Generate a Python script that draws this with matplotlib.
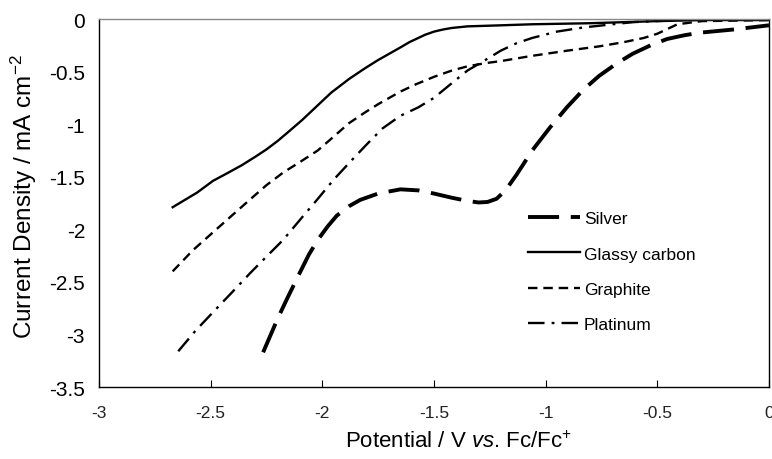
import matplotlib
matplotlib.use("Agg")
import matplotlib.pyplot as plt

plt.rcParams['font.family'] = ['Liberation Sans', 'DejaVu Sans']
plt.rcParams['mathtext.fontset'] = 'custom'
plt.rcParams['mathtext.rm'] = 'Liberation Sans'
plt.rcParams['mathtext.it'] = 'Liberation Sans:italic'

gc_x = [-2.67, -2.56, -2.49, -2.42, -2.36, -2.30, -2.25, -2.20, -2.15, -2.09, -2.03, -1.96, -1.88, -1.81, -1.75, -1.70, -1.65, -1.61, -1.57, -1.54, -1.50, -1.46, -1.42, -1.35, -1.2, -1.06, -0.8, -0.5, -0.3, 0]
gc_y = [-1.79, -1.65, -1.54, -1.46, -1.39, -1.31, -1.24, -1.16, -1.07, -0.96, -0.84, -0.70, -0.57, -0.47, -0.39, -0.33, -0.27, -0.22, -0.18, -0.15, -0.12, -0.10, -0.085, -0.07, -0.06, -0.05, -0.04, -0.02, -0.01, -0.01]

gr_x = [-2.67, -2.58, -2.49, -2.40, -2.32, -2.25, -2.175, -2.10, -2.02, -1.95, -1.88, -1.81, -1.75, -1.70, -1.65, -1.58, -1.5, -1.42, -1.35, -1.27, -1.2, -1.06, -0.9, -0.76, -0.65, -0.56, -0.50, -0.45, -0.41, -0.3, 0]
gr_y = [-2.40, -2.20, -2.03, -1.86, -1.71, -1.58, -1.46, -1.36, -1.25, -1.12, -0.99, -0.89, -0.81, -0.75, -0.69, -0.62, -0.55, -0.49, -0.45, -0.42, -0.40, -0.35, -0.30, -0.26, -0.22, -0.18, -0.14, -0.09, -0.05, -0.02, -0.01]

pt_x = [-2.645, -2.57, -2.49, -2.40, -2.32, -2.25, -2.175, -2.10, -2.02, -1.95, -1.876, -1.80, -1.73, -1.65, -1.57, -1.5, -1.42, -1.35, -1.27, -1.2, -1.13, -1.06, -0.95, -0.83, -0.7, -0.61, -0.4, 0]
pt_y = [-3.16, -2.97, -2.79, -2.59, -2.41, -2.26, -2.10, -1.91, -1.71, -1.53, -1.36, -1.19, -1.04, -0.92, -0.84, -0.75, -0.61, -0.49, -0.39, -0.30, -0.23, -0.18, -0.12, -0.08, -0.05, -0.03, -0.01, 0.0]

ag_x = [-2.265, -2.20, -2.16, -2.10, -2.06, -2.02, -1.975, -1.935, -1.88, -1.83, -1.75, -1.65, -1.57, -1.5, -1.42, -1.35, -1.30, -1.26, -1.22, -1.18, -1.13, -1.06, -0.98, -0.905, -0.83, -0.76, -0.68, -0.61, -0.53, -0.456, -0.38, -0.31, -0.16, 0]
ag_y = [-3.17, -2.85, -2.67, -2.41, -2.24, -2.10, -1.97, -1.87, -1.78, -1.72, -1.66, -1.62, -1.63, -1.66, -1.70, -1.73, -1.745, -1.74, -1.71, -1.63, -1.48, -1.25, -1.03, -0.84, -0.67, -0.54, -0.42, -0.33, -0.25, -0.19, -0.155, -0.13, -0.10, -0.06]

x_ticks = [-3, -2.5, -2, -1.5, -1, -0.5, 0]
x_ticklabels = ['-3', '-2.5', '-2', '-1.5', '-1', '-0.5', '0']
y_ticks = [0, -0.5, -1, -1.5, -2, -2.5, -3, -3.5]
y_ticklabels = ['0', '-0.5', '-1', '-1.5', '-2', '-2.5', '-3', '-3.5']

fig = plt.figure(figsize=(7.72, 4.60), dpi=100)
ax = fig.add_axes([0.1282, 0.1565, 0.8679, 0.80])

ax.plot(ag_x, ag_y, color='black', lw=2.8, dashes=(8, 3), label='Silver')
ax.plot(gc_x, gc_y, color='black', lw=1.7, label='Glassy carbon')
ax.plot(gr_x, gr_y, color='black', lw=1.7, dashes=(4, 2.5), label='Graphite')
ax.plot(pt_x, pt_y, color='black', lw=1.7, dashes=(7, 3, 1.2, 3), label='Platinum')

ax.set_xlim(-3, 0)
ax.set_ylim(-3.5, 0)
ax.set_xticks(x_ticks)
ax.set_xticklabels(x_ticklabels, fontsize=12.5, color='#222222')
ax.set_yticks(y_ticks)
ax.set_yticklabels(y_ticklabels, fontsize=15)
ax.tick_params(axis='x', direction='in', length=5, pad=13)
ax.tick_params(axis='y', length=0, pad=10)

for s in ['left', 'bottom', 'right']:
    ax.spines[s].set_color('black')
    ax.spines[s].set_linewidth(1.0)
ax.spines['top'].set_color('#888888')
ax.spines['top'].set_linewidth(1.0)

ax.set_xlabel('Potential / V $\\mathit{vs}$. Fc/Fc$^{+}$', fontsize=16)
ax.xaxis.set_label_coords(0.536, -0.118)
ax.set_ylabel('Current Density / mA cm$^{-2}$', fontsize=17.5)
ax.yaxis.set_label_coords(-0.09, 0.52)

ax.legend(loc='upper left', bbox_to_anchor=(0.6176, 0.52), frameon=False, fontsize=12.5,
          handlelength=3.0, handletextpad=0.2, labelspacing=1.15)

fig.savefig('out.png', dpi=100)
